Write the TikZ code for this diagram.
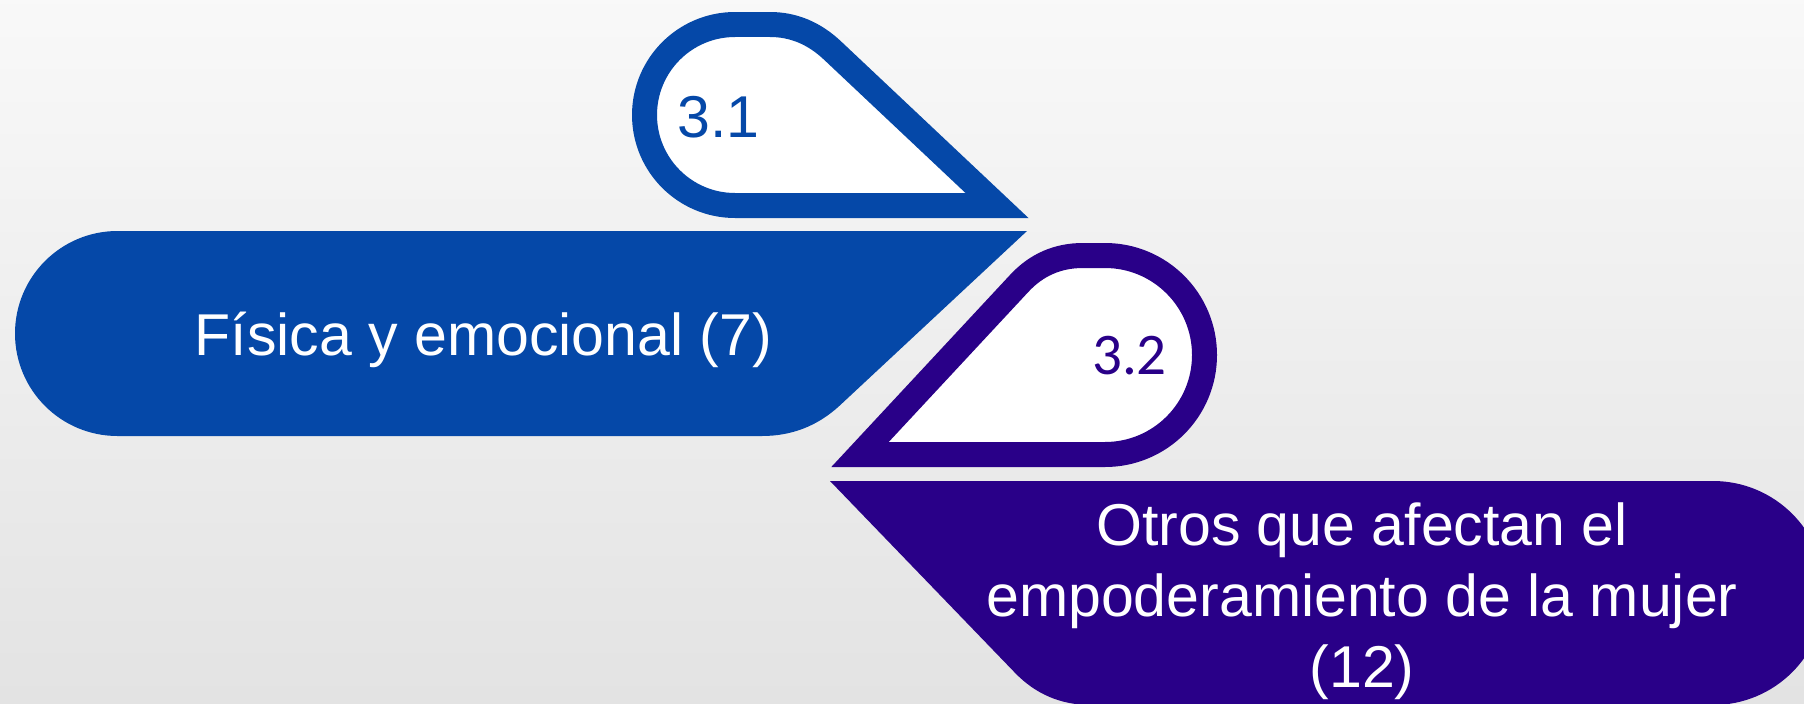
\documentclass[tikz,border=0pt]{standalone}
\usepackage{fontspec}
\setmainfont{Liberation Sans}
\newfontfamily\calfont{Carlito}
\usetikzlibrary{calc}
\definecolor{azul}{HTML}{0548A8}
\definecolor{morado}{HTML}{290088}
\tikzset{
  hueco/.style={line width=0.5cm, line join=miter, fill=white},
  rotulo/.style={anchor=base, inner sep=0, font=\fontsize{33.6}{40.4}\selectfont},
}

\begin{document}
\begin{tikzpicture}[x=0.02cm, y=-0.02cm]
\shade[top color=gray!5, bottom color=gray!22] (0,0) rectangle (1804,703);
\useasboundingbox (0,0) rectangle (1804,703);
\clip (0,0) rectangle (1804,703);
% rounded corners: P = corner, A/B = ends of the bend
\coordinate (P1) at (805,24.5);   \coordinate (A1) at (770,24.5);   \coordinate (B1) at (832.6,50.6);
\coordinate (PF) at (807,436);    \coordinate (AF) at (840,405.3);  \coordinate (BF) at (762,436);
\coordinate (P2) at (1045,255.5); \coordinate (A2) at (1019.2,283.4); \coordinate (B2) at (1083,255.5);
\coordinate (PO) at (1046,705);   \coordinate (AO) at (1091,705);   \coordinate (BO) at (1014.8,672.6);
% 3.1
\draw[hueco, draw=azul] (997,205.5) -- (735,205.5) arc[start angle=90, end angle=270, radius=90.5]
  -- (A1) .. controls ($(A1)!2/3!(P1)$) and ($(B1)!2/3!(P1)$) .. (B1) -- cycle;
\node[rotulo, text=azul] (n31) at (718.5,137) {3.1};
% fisica y emocional
\fill[azul] (117.5,436) arc[start angle=90, end angle=270, radius=102.5] -- (1027,231)
  -- (AF) .. controls ($(AF)!2/3!(PF)$) and ($(BF)!2/3!(PF)$) .. (BF) -- cycle;
\node[rotulo, text=white] (fisica) at (483.5,355) {Física y emocional (7)};
% 3.2
\draw[hueco, draw=morado] (860,454.5) -- (A2) .. controls ($(A2)!2/3!(P2)$) and ($(B2)!2/3!(P2)$) .. (B2)
  -- (1105,255.5) arc[start angle=270, end angle=450, radius=99.5] -- cycle;
\node[rotulo, text=morado, font=\calfont\fontsize{33.6}{40.4}\selectfont] (n32) at (1129.5,374) {3.2};
% otros
\fill[morado] (830,481) -- (1713,481) arc[start angle=270, end angle=450, radius=112]
  -- (AO) .. controls ($(AO)!2/3!(PO)$) and ($(BO)!2/3!(PO)$) .. (BO) -- cycle;
\node[rotulo, text=white, align=center] (otros) at (1362,687) {Otros que afectan el\\empoderamiento de la mujer\\(12)};
\end{tikzpicture}
\end{document}
